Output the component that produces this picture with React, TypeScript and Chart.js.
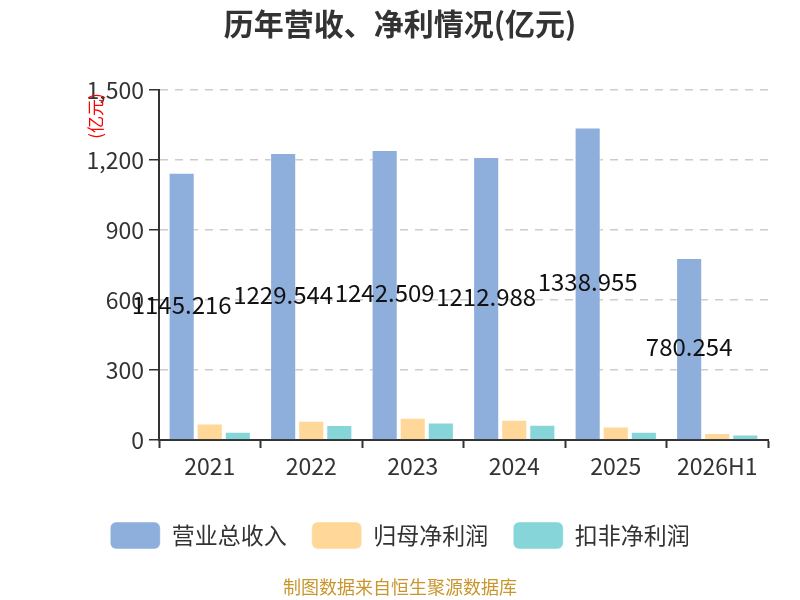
import React, { useEffect, useRef } from 'react';
import { Chart, registerables } from 'chart.js';

Chart.register(...registerables);

const years = ['2021', '2022', '2023', '2024', '2025', '2026H1'];
const revenue = [1145.216, 1229.544, 1242.509, 1212.988, 1338.955, 780.254];
const netProfit = [71, 82, 95, 87, 58, 30];
const deductedProfit = [35, 64, 75, 65, 35, 24];
const seriesNames = ['营业总收入', '归母净利润', '扣非净利润'];
const yTicks = [0, 300, 600, 900, 1200, 1500];

const FONT = "'Noto Sans CJK SC', 'Noto Sans', sans-serif";

// title, footer, y axis name and the labels on the revenue bars
const decorPlugin = {
  id: 'decor',
  afterDatasetsDraw(chart: any) {
    const ctx = chart.ctx;
    const meta = chart.getDatasetMeta(0);
    ctx.save();
    ctx.font = `24px ${FONT}`;
    ctx.fillStyle = '#111';
    ctx.textAlign = 'center';
    ctx.textBaseline = 'middle';
    meta.data.forEach((bar: any, i: number) => {
      ctx.fillText(String(revenue[i]), bar.x, (bar.y + bar.base) / 2 - 1.5);
    });
    ctx.restore();
  },
  afterDraw(chart: any) {
    const ctx = chart.ctx;
    ctx.save();
    ctx.textAlign = 'center';
    ctx.textBaseline = 'middle';
    ctx.fillStyle = '#333';
    ctx.font = `bold 30px ${FONT}`;
    ctx.fillText('历年营收、净利情况(亿元)', 400, 24);

    ctx.fillStyle = '#c8962d';
    ctx.font = `18px ${FONT}`;
    ctx.fillText('制图数据来自恒生聚源数据库', 400, 587);

    ctx.translate(96, 116);
    ctx.rotate(-Math.PI / 2);
    ctx.fillStyle = '#ff0000';
    ctx.font = `17px ${FONT}`;
    ctx.fillText('(亿元)', 0, 0);
    ctx.restore();
  },
};

const App: React.FC = () => {
  const canvasRef = useRef<HTMLCanvasElement>(null);
  const chartRef = useRef<Chart | null>(null);

  useEffect(() => {
    document.body.style.margin = '0';
    if (!canvasRef.current) return;
    const ctx = canvasRef.current.getContext('2d');
    if (!ctx) return;

    chartRef.current = new Chart(ctx, {
      type: 'bar',
      data: {
        labels: years,
        datasets: [
          { label: seriesNames[0], data: revenue, backgroundColor: '#8eaedb' },
          { label: seriesNames[1], data: netProfit, backgroundColor: '#ffd899' },
          { label: seriesNames[2], data: deductedProfit, backgroundColor: '#86d5d8' },
        ].map((d) => ({
          ...d,
          borderColor: 'rgba(255,255,255,0.45)',
          borderWidth: 1,
          categoryPercentage: 0.83,
          barPercentage: 0.93,
        })),
      },
      options: {
        responsive: false,
        animation: false,
        layout: { padding: { top: 90, right: 32, bottom: 41, left: 32 } },
        scales: {
          x: {
            afterFit: (scale: any) => {
              scale.height = 57;
            },
            grid: {
              offset: true,
              drawOnChartArea: false,
              tickLength: 8,
              tickColor: '#333',
              tickWidth: 2,
            },
            border: { color: '#333', width: 2 },
            ticks: { color: '#333', padding: 4, font: { family: FONT, size: 23 } },
          },
          y: {
            min: 0,
            max: 1500,
            afterFit: (scale: any) => {
              scale.width = 127;
            },
            afterBuildTicks: (scale: any) => {
              scale.ticks = yTicks.map((v) => ({ value: v }));
            },
            grid: {
              color: '#cccccc',
              lineWidth: 1.5,
              tickLength: 10,
              tickColor: '#333',
            },
            border: { color: '#333', width: 2, dash: [8, 7] },
            ticks: {
              color: '#333',
              padding: 5,
              font: { family: FONT, size: 23 },
              callback: (v: any) => Number(v).toLocaleString('en-US'),
            },
          },
        },
        plugins: {
          legend: {
            position: 'bottom',
            labels: {
              boxWidth: 50,
              boxHeight: 27,
              useBorderRadius: true,
              borderRadius: 6,
              padding: 25,
              color: '#333',
              font: { family: FONT, size: 23 },
            },
          },
          tooltip: { enabled: false },
        },
      },
      plugins: [decorPlugin],
    });

    return () => {
      chartRef.current?.destroy();
      chartRef.current = null;
    };
  }, []);

  return (
    <div style={{ width: 800, height: 600, background: '#fff' }}>
      <canvas ref={canvasRef} width={800} height={600}></canvas>
    </div>
  );
};

export default App;
